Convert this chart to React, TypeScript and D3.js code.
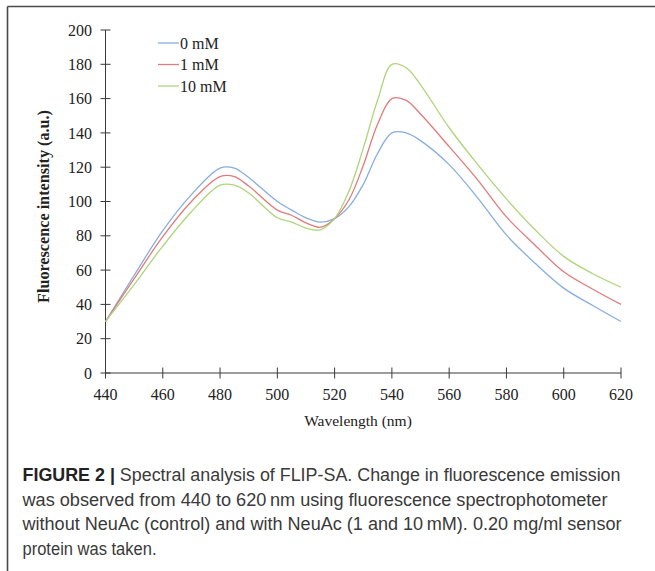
import React from "react";
import * as d3 from "d3";

// Emission wavelengths (nm) and fluorescence intensities (a.u.) per NeuAc concentration
const wavelengths = [440, 450, 460, 470, 480, 485, 490, 500, 505, 510, 515, 520, 525, 530, 535, 540, 545, 550, 560, 570, 580, 590, 600, 610, 620];
const control0mM = [30, 57, 83, 104, 119.5, 119.5, 114, 100, 95, 90.5, 88, 90, 97, 110, 128, 140, 140, 135.5, 121.5, 102, 80.5, 64, 49.5, 39.5, 30];
const neuAc1mM = [30, 55, 79.5, 100, 114.5, 114.5, 109, 95, 92, 87.5, 85, 90, 101, 121, 145, 160, 159, 151, 132, 112.5, 91, 74.5, 59, 49, 40];
const neuAc10mM = [30, 51.5, 74, 94, 109.5, 109.5, 105, 90.5, 88, 84.5, 83.5, 90, 106, 131, 159, 180, 178, 168, 143, 121.5, 101.5, 83.5, 68, 58, 50];

const seriesNames = ["0 mM", "1 mM", "10 mM"];
const seriesColors = ["#86aee0", "#e27a7c", "#add57a"];
const xTicks = [440, 460, 480, 500, 520, 540, 560, 580, 600, 620];
const yTicks = [0, 20, 40, 60, 80, 100, 120, 140, 160, 180, 200];

const captionLines = [
  { bold: "FIGURE 2 | ", rest: "Spectral analysis of FLIP-SA. Change in fluorescence emission", width: 598 },
  { bold: "", rest: "was observed from 440 to 620\u2009nm using fluorescence spectrophotometer", width: 585 },
  { bold: "", rest: "without NeuAc (control) and with NeuAc (1 and 10\u2009mM). 0.20 mg/ml sensor", width: 599 },
  { bold: "", rest: "protein was taken.", width: 134 },
];

const W = 655;
const H = 571;
const serif = "'Liberation Serif', 'DejaVu Serif', serif";
const sans = "'Liberation Sans Narrow', 'Liberation Sans', Arial, sans-serif";

export default function App() {
  const x = d3.scaleLinear().domain([440, 620]).range([105.5, 621]);
  const y = d3.scaleLinear().domain([0, 200]).range([373, 30]);
  const allSeries = [control0mM, neuAc1mM, neuAc10mM];

  const line = d3
    .line<number>()
    .x((_, i) => x(wavelengths[i]))
    .y((v) => y(v))
    .curve(d3.curveCatmullRom.alpha(0.5));

  const axisColor = "#3a3a3a";

  return (
    <svg
      width={W}
      height={H}
      viewBox={`0 0 ${W} ${H}`}
      style={{ position: "absolute", left: 0, top: 0, background: "#fff" }}
    >
      {/* figure frame (top and left rules) */}
      <line x1={7.5} y1={6.5} x2={W} y2={6.5} stroke="#4a4a4a" strokeWidth={1.6} />
      <line x1={7.5} y1={6.5} x2={7.5} y2={H} stroke="#4a4a4a" strokeWidth={1.6} />

      {/* y axis */}
      <line x1={x(440)} y1={y(0)} x2={x(440)} y2={y(200)} stroke={axisColor} strokeWidth={1} />
      {yTicks.map((t) => (
        <g key={`y${t}`}>
          <line x1={x(440) - 5} x2={x(440) + 5} y1={y(t)} y2={y(t)} stroke={axisColor} strokeWidth={1} />
          <text
            x={92}
            y={y(t)}
            dy="0.35em"
            textAnchor="end"
            fontFamily={serif}
            fontSize={16}
            fill="#222"
          >
            {t}
          </text>
        </g>
      ))}

      {/* x axis */}
      <line x1={x(440)} y1={y(0)} x2={x(620)} y2={y(0)} stroke={axisColor} strokeWidth={1} />
      {xTicks.map((t) => (
        <g key={`x${t}`}>
          <line x1={x(t)} x2={x(t)} y1={y(0) - 5.5} y2={y(0) + 5.5} stroke={axisColor} strokeWidth={1} />
          <text x={x(t)} y={400} textAnchor="middle" fontFamily={serif} fontSize={16} fill="#222">
            {t}
          </text>
        </g>
      ))}

      {/* axis titles */}
      <text x={358} y={426} textAnchor="middle" fontFamily={serif} fontSize={15.5} fill="#222">
        Wavelength (nm)
      </text>
      <text
        transform="translate(49,206.5) rotate(-90)"
        textAnchor="middle"
        fontFamily={serif}
        fontWeight="bold"
        fontSize={16.5}
        fill="#222"
        textLength={193}
        lengthAdjust="spacingAndGlyphs"
      >
        Fluorescence intensity (a.u.)
      </text>

      {/* spectra */}
      {allSeries.map((s, i) => (
        <path key={seriesNames[i]} d={line(s) ?? ""} fill="none" stroke={seriesColors[i]} strokeWidth={1.3} />
      ))}

      {/* legend */}
      {seriesNames.map((name, i) => {
        const ly = 43 + i * 21.5;
        return (
          <g key={`lg${name}`}>
            <line x1={158} x2={179} y1={ly} y2={ly} stroke={seriesColors[i]} strokeWidth={1.3} />
            <text x={180} y={ly} dy="0.35em" fontFamily={serif} fontSize={16} fill="#222">
              {name}
            </text>
          </g>
        );
      })}

      {/* caption */}
      {captionLines.map((c, i) => (
        <text
          key={`cap${i}`}
          x={22.5}
          y={481 + i * 24.5}
          fontFamily={sans}
          fontSize={17.5}
          fill="#3a3a3a"
          textLength={c.width}
          lengthAdjust="spacingAndGlyphs"
        >
          {c.bold ? (
            <tspan fontWeight="bold" fill="#222">
              {c.bold}
            </tspan>
          ) : null}
          {c.rest}
        </text>
      ))}
    </svg>
  );
}
